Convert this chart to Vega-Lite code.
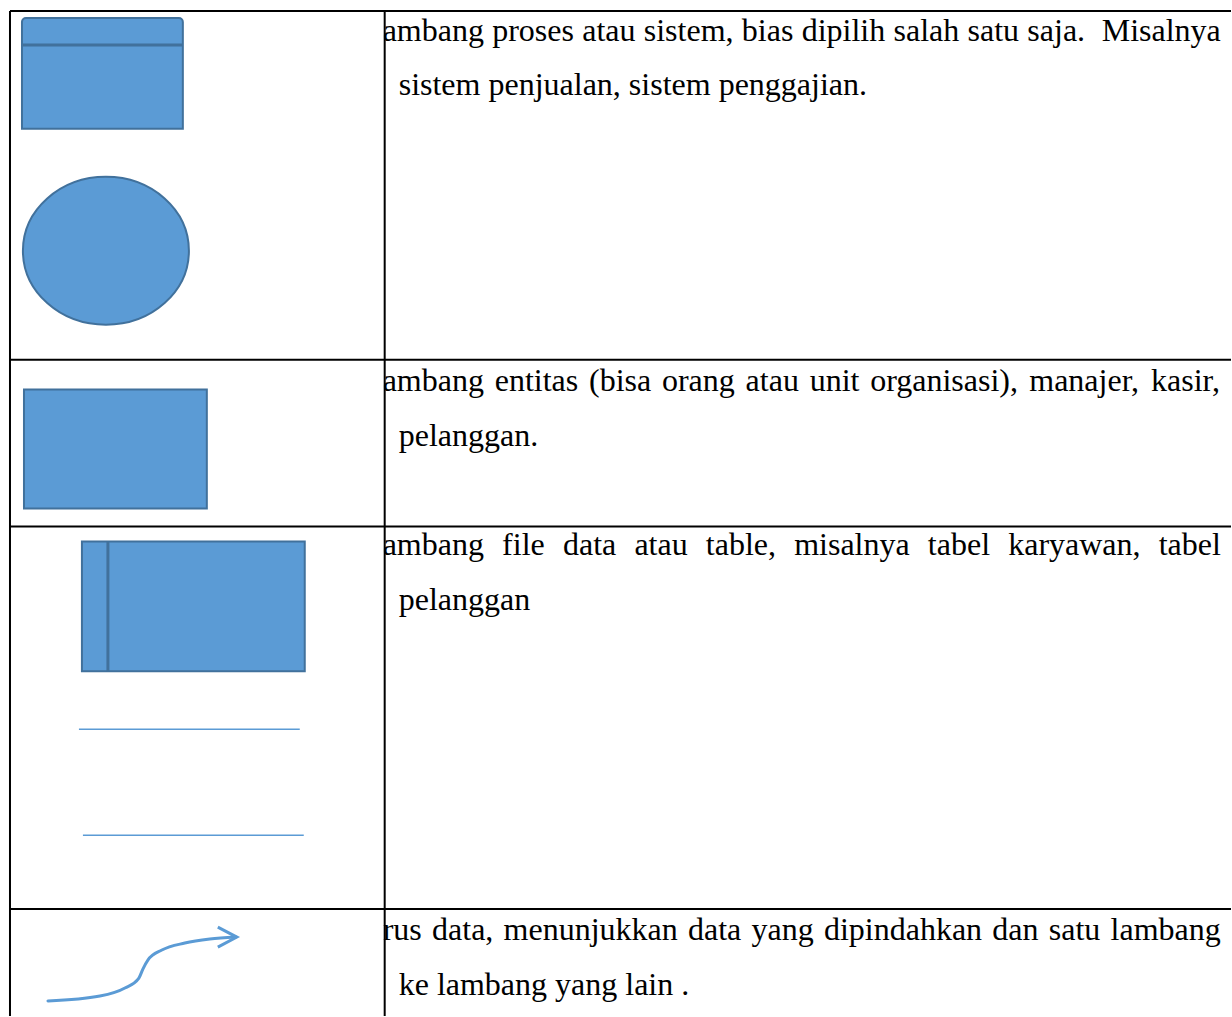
{
  "$schema": "https://vega.github.io/schema/vega-lite/v6.json",
  "width": 1232,
  "height": 1017,
  "autosize": {"type": "fit", "contains": "padding"},
  "padding": 0,
  "background": "white",
  "config": {"view": {"stroke": null}},
  "datasets": {
    "grid": [
      {"x": 10, "x2": 1232, "y": 11, "y2": 11},
      {"x": 10, "x2": 10, "y": 11, "y2": 1017},
      {"x": 385, "x2": 385, "y": 11, "y2": 1017},
      {"x": 10, "x2": 1232, "y": 360, "y2": 360},
      {"x": 10, "x2": 1232, "y": 527, "y2": 527},
      {"x": 10, "x2": 1232, "y": 910, "y2": 910}
    ],
    "cover": [{"x": 11, "x2": 384, "y": 12, "y2": 1017}],
    "boxes": [
      {"kind": "proses", "x": 22, "x2": 183, "y": 18, "y2": 129},
      {"kind": "entitas", "x": 24, "x2": 207, "y": 390, "y2": 509},
      {"kind": "file", "x": 82, "x2": 305, "y": 542, "y2": 672}
    ],
    "dividers": [
      {"x": 22, "x2": 183, "y": 45, "y2": 45},
      {"x": 108, "x2": 108, "y": 542, "y2": 672}
    ],
    "ellipse": [{"x": 106, "y": 251}],
    "thin": [
      {"x": 79, "x2": 300, "y": 730, "y2": 730},
      {"x": 83, "x2": 304, "y": 836, "y2": 836}
    ],
    "curve": [
      {"x": 48, "y": 1002},
      {"x": 100, "y": 997},
      {"x": 125, "y": 989},
      {"x": 139, "y": 979},
      {"x": 143, "y": 970},
      {"x": 148, "y": 961},
      {"x": 162, "y": 951},
      {"x": 185, "y": 944},
      {"x": 210, "y": 940},
      {"x": 236, "y": 938}
    ],
    "head": [
      {"i": 1, "x": 218, "y": 928},
      {"i": 2, "x": 237, "y": 938},
      {"i": 3, "x": 218, "y": 948}
    ],
    "words": [
      {"t": "Lambang", "x": 363.4, "y": 41},
      {"t": "proses", "x": 492.6, "y": 41},
      {"t": "atau", "x": 582.7, "y": 41},
      {"t": "sistem,", "x": 644.3, "y": 41},
      {"t": "bias", "x": 742.4, "y": 41},
      {"t": "dipilih", "x": 802.3, "y": 41},
      {"t": "salah", "x": 894.2, "y": 41},
      {"t": "satu", "x": 968.3, "y": 41},
      {"t": "saja.", "x": 1028.2, "y": 41},
      {"t": "Misalnya", "x": 1102.6, "y": 41},
      {"t": "sistem penjualan, sistem penggajian.", "x": 399, "y": 95},
      {"t": "Lambang", "x": 363.4, "y": 391},
      {"t": "entitas", "x": 495.1, "y": 391},
      {"t": "(bisa", "x": 589.5, "y": 391},
      {"t": "orang", "x": 662.5, "y": 391},
      {"t": "atau", "x": 746.2, "y": 391},
      {"t": "unit", "x": 810.3, "y": 391},
      {"t": "organisasi),", "x": 870.9, "y": 391},
      {"t": "manajer,", "x": 1030.1, "y": 391},
      {"t": "kasir,", "x": 1152, "y": 391},
      {"t": "pelanggan.", "x": 399, "y": 446},
      {"t": "Lambang", "x": 363.4, "y": 556},
      {"t": "file", "x": 502.5, "y": 556},
      {"t": "data", "x": 563.4, "y": 556},
      {"t": "atau", "x": 634.9, "y": 556},
      {"t": "table,", "x": 706.4, "y": 556},
      {"t": "misalnya", "x": 794.8, "y": 556},
      {"t": "tabel", "x": 928.6, "y": 556},
      {"t": "karyawan,", "x": 1009, "y": 556},
      {"t": "tabel", "x": 1159.6, "y": 556},
      {"t": "pelanggan", "x": 399, "y": 611},
      {"t": "Arus", "x": 359.9, "y": 941},
      {"t": "data,", "x": 432.4, "y": 941},
      {"t": "menunjukkan", "x": 504, "y": 941},
      {"t": "data", "x": 688.5, "y": 941},
      {"t": "yang", "x": 752.1, "y": 941},
      {"t": "dipindahkan", "x": 824.6, "y": 941},
      {"t": "dan", "x": 993.1, "y": 941},
      {"t": "satu", "x": 1049.6, "y": 941},
      {"t": "lambang", "x": 1111.5, "y": 941},
      {"t": "ke lambang yang lain .", "x": 399, "y": 996}
    ]
  },
  "encoding": {
    "x": {"field": "x", "type": "quantitative", "scale": {"domain": [0, 1232], "nice": false, "zero": false}, "axis": null},
    "y": {"field": "y", "type": "quantitative", "scale": {"domain": [0, 1017], "nice": false, "zero": false, "reverse": true}, "axis": null}
  },
  "layer": [
    {
      "data": {"name": "words"},
      "mark": {"type": "text", "font": "Liberation Serif", "fontSize": 32, "align": "left", "baseline": "alphabetic", "color": "#000000"},
      "encoding": {"text": {"field": "t", "type": "nominal"}}
    },
    {
      "data": {"name": "cover"},
      "mark": {"type": "rect", "fill": "#ffffff", "strokeWidth": 0},
      "encoding": {"x2": {"field": "x2"}, "y2": {"field": "y2"}}
    },
    {
      "data": {"name": "grid"},
      "mark": {"type": "rule", "color": "#000000", "strokeWidth": 2},
      "encoding": {"x2": {"field": "x2"}, "y2": {"field": "y2"}}
    },
    {
      "data": {"name": "boxes"},
      "transform": [{"filter": "datum.kind === 'proses'"}],
      "mark": {"type": "rect", "fill": "#5B9BD5", "stroke": "#41719C", "strokeWidth": 2, "cornerRadiusTopLeft": 4, "cornerRadiusTopRight": 4},
      "encoding": {"x2": {"field": "x2"}, "y2": {"field": "y2"}}
    },
    {
      "data": {"name": "boxes"},
      "transform": [{"filter": "datum.kind !== 'proses'"}],
      "mark": {"type": "rect", "fill": "#5B9BD5", "stroke": "#41719C", "strokeWidth": 2},
      "encoding": {"x2": {"field": "x2"}, "y2": {"field": "y2"}}
    },
    {
      "data": {"name": "dividers"},
      "mark": {"type": "rule", "color": "#41719C", "strokeWidth": 3},
      "encoding": {"x2": {"field": "x2"}, "y2": {"field": "y2"}}
    },
    {
      "data": {"name": "ellipse"},
      "mark": {"type": "point", "shape": "M -1 0 A 1 0.8916 0 1 1 1 0 A 1 0.8916 0 1 1 -1 0 Z", "size": 27556, "filled": true, "fill": "#5B9BD5", "stroke": "#41719C", "strokeWidth": 2, "opacity": 1, "fillOpacity": 1, "strokeOpacity": 1}
    },
    {
      "data": {"name": "thin"},
      "mark": {"type": "rule", "color": "#5B9BD5", "strokeWidth": 1.5},
      "encoding": {"x2": {"field": "x2"}, "y2": {"field": "y2"}}
    },
    {
      "data": {"name": "curve"},
      "mark": {"type": "line", "color": "#5B9BD5", "strokeWidth": 3, "interpolate": "monotone", "strokeCap": "round"},
      "encoding": {}
    },
    {
      "data": {"name": "head"},
      "mark": {"type": "line", "color": "#5B9BD5", "strokeWidth": 3, "strokeCap": "butt", "strokeJoin": "miter"},
      "encoding": {"order": {"field": "i", "type": "quantitative"}}
    }
  ]
}
